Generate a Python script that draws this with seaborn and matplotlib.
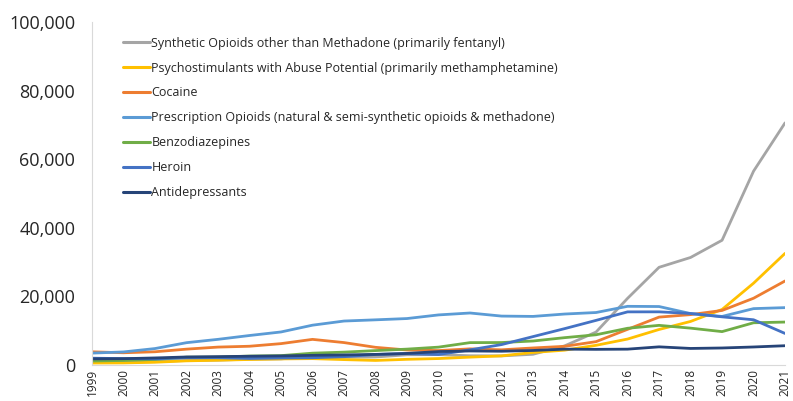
import pandas as pd
import matplotlib.pyplot as plt
import seaborn as sns

years = list(range(1999, 2022))

synthetic = [730, 782, 957, 1295, 1400, 1664, 1742, 2707, 2213, 2306, 2946, 3007,
             2666, 2628, 3105, 5544, 9580, 19413, 28466, 31335, 36359, 56516, 70601]
psychostim = [547, 578, 775, 1187, 1367, 1582, 1748, 1830, 1547, 1302, 1632, 1854,
              2266, 2635, 3627, 4298, 5716, 7542, 10333, 12676, 16167, 23837, 32537]
cocaine = [3822, 3544, 3833, 4599, 5199, 5443, 6208, 7448, 6512, 5129, 4350, 4183,
           4681, 4404, 4944, 5415, 6784, 10375, 13942, 14666, 15883, 19447, 24486]
rx_opioids = [3442, 3785, 4770, 6483, 7456, 8577, 9612, 11589, 12796, 13149, 13523, 14583,
              15140, 14240, 14145, 14838, 15281, 17087, 17029, 14975, 14139, 16416, 16706]
benzos = [1135, 1298, 1594, 2255, 2248, 2585, 2707, 3426, 3724, 4177, 4605, 5184,
          6500, 6524, 6973, 7945, 8791, 10684, 11537, 10724, 9711, 12290, 12499]
heroin = [1960, 1842, 1779, 2089, 2080, 1878, 2009, 2088, 2399, 3041, 3278, 3036,
          4397, 5925, 8257, 10574, 12989, 15469, 15482, 14996, 14019, 13165, 9173]
antidep = [1749, 1815, 2034, 2315, 2419, 2525, 2620, 2786, 2917, 3069, 3350, 3889,
           4064, 3987, 4213, 4597, 4541, 4596, 5269, 4803, 4937, 5230, 5597]

labels = [
    'Synthetic Opioids other than Methadone (primarily fentanyl)',
    'Psychostimulants with Abuse Potential (primarily methamphetamine)',
    'Cocaine',
    'Prescription Opioids (natural & semi-synthetic opioids & methadone)',
    'Benzodiazepines',
    'Heroin',
    'Antidepressants',
]
series = [synthetic, psychostim, cocaine, rx_opioids, benzos, heroin, antidep]
colors = ['#A5A5A5', '#FFC000', '#ED7D31', '#5B9BD5', '#70AD47', '#4472C4', '#264478']

# long format table for seaborn
rows = []
for lab, vals in zip(labels, series):
    for y, v in zip(years, vals):
        rows.append({'year': y, 'deaths': v, 'drug': lab})
df = pd.DataFrame(rows)

sns.set_style('white')
plt.rcParams['font.family'] = ['Open Sans', 'DejaVu Sans']

fig = plt.figure(figsize=(7.93, 4.01), dpi=100)
ax = fig.add_axes([0.116, 0.09, 0.874, 0.855])

sns.lineplot(data=df, x='year', y='deaths', hue='drug', hue_order=labels,
             palette=colors, linewidth=2.0, ax=ax)

ax.set_xlim(1999, 2021)
ax.set_ylim(0, 100000)
ax.set_yticks(range(0, 100001, 20000))
ax.set_yticklabels([f'{v:,}' for v in range(0, 100001, 20000)], fontsize=13)
ax.set_xticks(years)
ax.set_xticklabels([str(y) for y in years], rotation=90, fontsize=8.5)
ax.tick_params(axis='y', length=0, pad=12)
ax.tick_params(axis='x', length=0, pad=3)
ax.set_xlabel('')
ax.set_ylabel('')

for side in ['top', 'right']:
    ax.spines[side].set_visible(False)
for side in ['left', 'bottom']:
    ax.spines[side].set_color('#D9D9D9')
    ax.spines[side].set_linewidth(0.8)

leg = ax.legend(loc='upper left', bbox_to_anchor=(0.028, 0.99), frameon=False,
                fontsize=9, handlelength=2.2, handletextpad=0.1, labelspacing=0.95)
for line in leg.get_lines():
    line.set_linewidth(2.2)

plt.savefig('out.png', dpi=100)
plt.close()
